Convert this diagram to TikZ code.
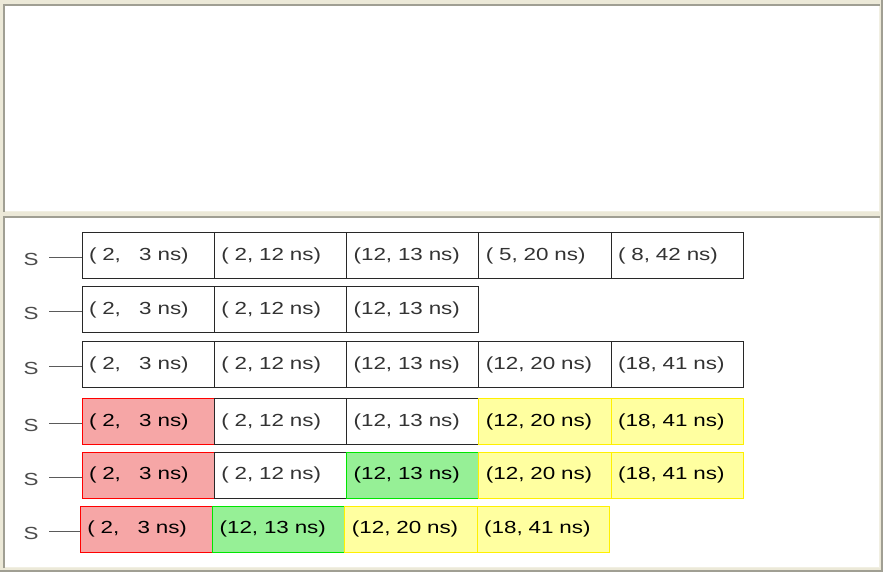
\documentclass[tikz,border=0pt]{standalone}
\usepackage{fontspec}
\setmainfont{Liberation Sans}[FakeStretch=1.28]
\definecolor{bgbeige}{RGB}{236,233,216}
\definecolor{darkedge}{RGB}{160,159,147}
\definecolor{lightedge}{RGB}{241,239,226}
\definecolor{cellline}{RGB}{40,40,40}
\definecolor{redfill}{RGB}{246,166,166}
\definecolor{greenfill}{RGB}{150,240,150}
\definecolor{yellowfill}{RGB}{255,255,160}
\definecolor{linkgray}{RGB}{90,90,90}
\tikzset{
  cell/.style={draw=cellline, line width=1pt, fill=white, rectangle, minimum width=132.3pt, minimum height=46pt,
    inner xsep=7pt, inner ysep=0pt, outer sep=0pt, text width=118.3pt, align=left, anchor=west, text=black!80,
    font=\fontsize{17.5}{20}\selectfont},
  redcell/.style={cell, draw=red, fill=redfill, text=black},
  greencell/.style={cell, draw={rgb,255:red,0;green,230;blue,0}, fill=greenfill, text=black},
  yellowcell/.style={cell, draw={rgb,255:red,255;green,240;blue,0}, fill=yellowfill, text=black},
  slabel/.style={font=\fontsize{17.5}{20}\selectfont, inner sep=0pt, text=black!70},
  link/.style={draw=linkgray, line width=1pt}
}
\newcommand{\ph}{\hphantom{1}}
\begin{document}
\begin{tikzpicture}[x=1pt,y=-1pt]
\useasboundingbox (0,0) rectangle (883,572);
% background and panels
\fill[bgbeige] (0,0) rectangle (883,572);
\fill[white] (3,4) rectangle (880,212);
\fill[white] (3,216) rectangle (880,568);
\draw[lightedge, line width=1.5pt] (3,211.5) -- (879.5,211.5) -- (879.5,4);
\draw[darkedge, line width=2pt] (4,212) -- (4,5) -- (880,5);
\draw[lightedge, line width=1.5pt] (3,567.5) -- (879.5,567.5) -- (879.5,216);
\draw[darkedge, line width=2pt] (4,568) -- (4,217) -- (880,217);
\fill[darkedge] (881,0) rectangle (883,572);
\fill[darkedge] (0,570) rectangle (883,572);

% Row 1
\node[cell] (a1) at (82,255.5) {( 2, \ph3 ns)};
\node[cell] (a2) at (a1.east) {( 2, 12 ns)};
\node[cell] (a3) at (a2.east) {(12, 13 ns)};
\node[cell] (a4) at (a3.east) {( 5, 20 ns)};
\node[cell] (a5) at (a4.east) {( 8, 42 ns)};
% Row 2
\node[cell] (b1) at (82,309.7) {( 2, \ph3 ns)};
\node[cell] (b2) at (b1.east) {( 2, 12 ns)};
\node[cell] (b3) at (b2.east) {(12, 13 ns)};
% Row 3
\node[cell] (c1) at (82,364.5) {( 2, \ph3 ns)};
\node[cell] (c2) at (c1.east) {( 2, 12 ns)};
\node[cell] (c3) at (c2.east) {(12, 13 ns)};
\node[cell] (c4) at (c3.east) {(12, 20 ns)};
\node[cell] (c5) at (c4.east) {(18, 41 ns)};
% Row 4
\node[redcell] (d1) at (82,421.5) {( 2, \ph3 ns)};
\node[cell] (d2) at (d1.east) {( 2, 12 ns)};
\node[cell] (d3) at (d2.east) {(12, 13 ns)};
\node[yellowcell] (d4) at (d3.east) {(12, 20 ns)};
\node[yellowcell] (d5) at (d4.east) {(18, 41 ns)};
% Row 5
\node[redcell] (e1) at (82,475) {( 2, \ph3 ns)};
\node[cell] (e2) at (e1.east) {( 2, 12 ns)};
\node[greencell] (e3) at (e2.east) {(12, 13 ns)};
\node[yellowcell] (e4) at (e3.east) {(12, 20 ns)};
\node[yellowcell] (e5) at (e4.east) {(18, 41 ns)};
% Row 6
\node[redcell] (f1) at (80.3,529.3) {( 2, \ph3 ns)};
\node[greencell] (f2) at (f1.east) {(12, 13 ns)};
\node[yellowcell] (f3) at (f2.east) {(12, 20 ns)};
\node[yellowcell] (f4) at (f3.east) {(18, 41 ns)};

% S labels and links
\foreach \r/\c/\yy in {1/a1/255.5, 2/b1/309.7, 3/c1/364.5, 4/d1/421.5, 5/e1/475, 6/f1/529.3} {
  \node[slabel] (s\r) at (31,\yy+4) {S};
  \coordinate (l\r) at (49,\yy+2);
  \draw[link] (l\r) -- ([yshift=-2pt]\c.west);
}
\end{tikzpicture}
\end{document}
